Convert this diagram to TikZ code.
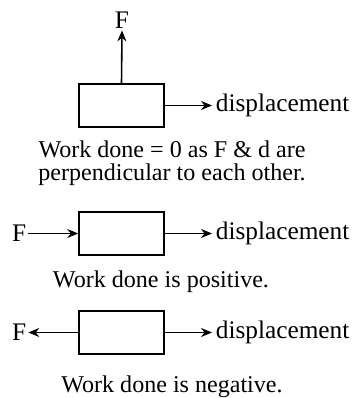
\documentclass[tikz,border=0pt]{standalone}
\usepackage{fontspec}
\setmainfont{Liberation Serif}
\usetikzlibrary{arrows.meta}

\begin{document}
\begin{tikzpicture}[
    x=0.02cm,y=-0.02cm,
    block/.style={draw,line width=0.9pt,minimum width=1.7cm,minimum height=0.86cm,inner sep=0pt},
    force/.style={-{Stealth[length=2.2mm,width=1.8mm]},line width=0.9pt},
    lbl/.style={font=\fontsize{14.4}{17}\selectfont,inner sep=1pt},
    caption/.style={font=\fontsize{13.7}{13.4}\selectfont,align=center,inner sep=0pt}
]
\useasboundingbox (0,0) rectangle (355,398);

% Zero work
\node[block] (box1) at (121.5,105.5) {};
\node[lbl] (F1) at (122,20) {F};
\draw[force] (box1.north) -- (F1.south);
\coordinate (d1) at (212,105.5);
\draw[force] (box1.east) -- (d1);
\node[lbl,anchor=west] (disp1) at ([xshift=1]d1) {displacement};
\node[caption] (cap1) at (172,163) {Work done = 0 as F \& d are\\perpendicular to each other.};

% Positive work
\node[block] (box2) at (121.5,233.5) {};
\node[lbl,anchor=west] (F2) at (10,233.5) {F};
\draw[force] (F2.east) -- (box2.west);
\coordinate (d2) at (212,233.5);
\draw[force] (box2.east) -- (d2);
\node[lbl,anchor=west] (disp2) at ([xshift=1]d2) {displacement};
\node[caption] (cap2) at (161,282) {Work done is positive.};

% Negative work
\node[block] (box3) at (121.5,332.5) {};
\node[lbl,anchor=west] (F3) at (10,332.5) {F};
\draw[force] (box3.west) -- (F3.east);
\coordinate (d3) at (212,332.5);
\draw[force] (box3.east) -- (d3);
\node[lbl,anchor=west] (disp3) at ([xshift=1]d3) {displacement};
\node[caption] (cap3) at (172,387) {Work done is negative.};
\end{tikzpicture}
\end{document}
